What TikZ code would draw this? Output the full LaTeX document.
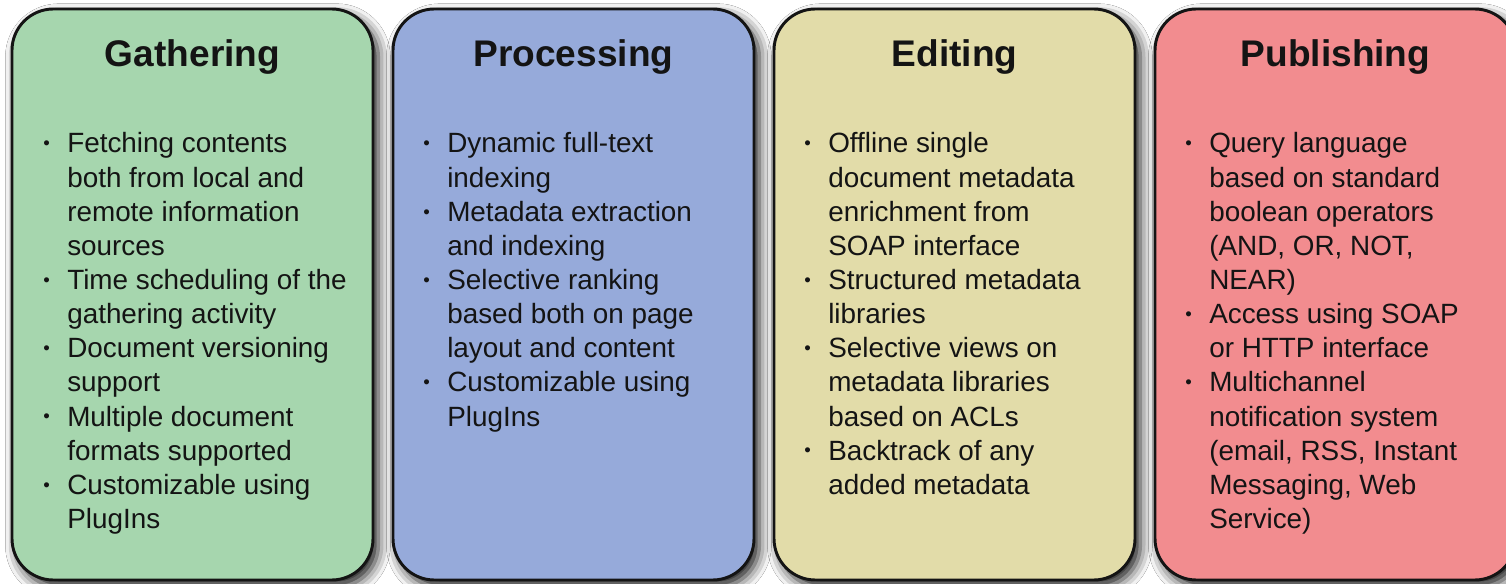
\documentclass[tikz,border=0pt]{standalone}
\usepackage{fontspec}
\setmainfont{Liberation Sans}
\usepackage{tikz}
\usetikzlibrary{positioning,shadows.blur}

\definecolor{gathercol}{HTML}{A6D6AE}
\definecolor{processcol}{HTML}{96AADA}
\definecolor{editcol}{HTML}{E2DCA9}
\definecolor{publishcol}{HTML}{F28C8F}
\definecolor{inkcol}{HTML}{141414}

\newcommand{\bul}{\raisebox{2.4pt}{\fontsize{14}{14}\selectfont •}}

\begin{document}
\begin{tikzpicture}[x=0.75pt, y=-0.75pt,
    stage/.style = {draw=inkcol, line width=2.2pt, rounded corners=31pt,
                    minimum width=270.75pt, minimum height=428.25pt,
                    blur shadow={shadow xshift=4pt, shadow yshift=-5pt,
                                 shadow blur radius=9pt, shadow opacity=90}},
    heading/.style = {anchor=base, inner sep=0pt, text=inkcol,
                      font=\fontsize{27.8}{30}\selectfont\bfseries},
    items/.style = {anchor=base west, inner sep=0pt, text=inkcol,
                    font=\fontsize{20.9}{25.6}\selectfont}]
    \clip (0,0) rectangle (1506,584);
    \fill[white] (0,0) rectangle (1506,584);

    % the four stages
    \node (gather) [stage, fill=gathercol] at (192.5,294.5) {};
    \node (process) [stage, fill=processcol] at (573.5,294.5) {};
    \node (edit) [stage, fill=editcol] at (954.5,294.5) {};
    \node (publish) [stage, fill=publishcol] at (1335.5,294.5) {};

    \node (gathertitle) [heading] at (192.5,67) {Gathering};
    \node (processtitle) [heading] at (573.5,67) {Processing};
    \node (edittitle) [heading] at (954.5,67) {Editing};
    \node (publishtitle) [heading] at (1335.5,67) {Publishing};

    \node (gatherlist) [items] at (43,153) {\begin{tabular}[t]{@{}p{18pt}@{}l@{}}
        \bul & Fetching contents\\ & both from local and\\ & remote information\\ & sources\\
        \bul & Time scheduling of the\\ & gathering activity\\
        \bul & Document versioning\\ & support\\
        \bul & Multiple document\\ & formats supported\\
        \bul & Customizable using\\ & PlugIns
    \end{tabular}};
    \node (processlist) [items] at (423,153) {\begin{tabular}[t]{@{}p{18pt}@{}l@{}}
        \bul & Dynamic full-text\\ & indexing\\
        \bul & Metadata extraction\\ & and indexing\\
        \bul & Selective ranking\\ & based both on page\\ & layout and content\\
        \bul & Customizable using\\ & PlugIns
    \end{tabular}};
    \node (editlist) [items] at (804,153) {\begin{tabular}[t]{@{}p{18pt}@{}l@{}}
        \bul & Offline single\\ & document metadata\\ & enrichment from\\ & SOAP interface\\
        \bul & Structured metadata\\ & libraries\\
        \bul & Selective views on\\ & metadata libraries\\ & based on ACLs\\
        \bul & Backtrack of any\\ & added metadata
    \end{tabular}};
    \node (publishlist) [items] at (1185,153) {\begin{tabular}[t]{@{}p{18pt}@{}l@{}}
        \bul & Query language\\ & based on standard\\ & boolean operators\\ & (AND, OR, NOT,\\ & NEAR)\\
        \bul & Access using SOAP\\ & or HTTP interface\\
        \bul & Multichannel\\ & notification system\\ & (email, RSS, Instant\\ & Messaging, Web\\ & Service)
    \end{tabular}};
\end{tikzpicture}
\end{document}
